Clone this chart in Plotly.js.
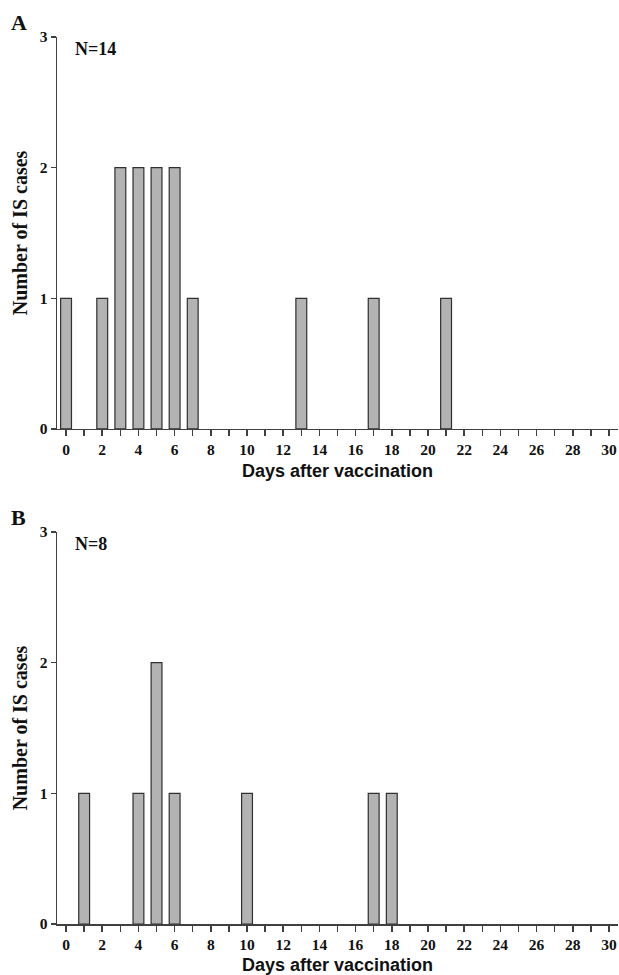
<!DOCTYPE html>
<html>
<head>
<meta charset="utf-8">
<script src="https://cdn.plot.ly/plotly-3.0.1.min.js"></script>
<style>html,body{margin:0;padding:0;background:#fff;}#chart{width:619px;height:975px;}</style>
</head>
<body>
<div id="chart"></div>
<script>
// Panel A
const daysA = [0, 2, 3, 4, 5, 6, 7, 13, 17, 21];
const casesA = [1, 1, 2, 2, 2, 2, 1, 1, 1, 1];
// Panel B
const daysB = [1, 4, 5, 6, 10, 17, 18];
const casesB = [1, 1, 2, 1, 1, 1, 1];
const panelLabels = ['A', 'B'];
const nLabels = ['N=14', 'N=8'];
const xTitle = 'Days after vaccination';
const yTitle = 'Number of IS cases';

const serif = 'Liberation Serif, Times New Roman, serif';
const sans = 'Liberation Sans, Arial, sans-serif';
const axisColor = '#404040';

const barStyle = {
  type: 'bar',
  width: 0.6,
  marker: {color: '#b3b3b3', line: {color: '#303030', width: 1.2}},
  hoverinfo: 'skip',
  showlegend: false
};

const data = [
  Object.assign({x: daysA, y: casesA, xaxis: 'x', yaxis: 'y'}, barStyle),
  Object.assign({x: daysB, y: casesB, xaxis: 'x2', yaxis: 'y2'}, barStyle)
];

function xaxis(anchor) {
  return {
    anchor: anchor,
    range: [-0.5, 30.5],
    dtick: 2, tick0: 0,
    ticks: 'outside', ticklen: 6, tickwidth: 1.5, tickcolor: axisColor,
    minor: {dtick: 1, tick0: 0, ticks: 'outside', ticklen: 6, tickwidth: 1.5, tickcolor: axisColor},
    showline: true, linecolor: axisColor, linewidth: 1.5,
    showgrid: false, zeroline: false,
    tickfont: {family: serif, size: 15.5, color: '#111', weight: 'bold'},
    title: {text: xTitle, font: {family: sans, size: 18, color: '#111', weight: 'bold'}, standoff: 7},
    fixedrange: true
  };
}
function yaxis(anchor, domain) {
  return {
    anchor: anchor, domain: domain,
    range: [0, 3], dtick: 1,
    ticks: 'outside', ticklen: 5, tickwidth: 1.5, tickcolor: axisColor,
    showline: true, linecolor: axisColor, linewidth: 1.5,
    showgrid: false, zeroline: false,
    tickfont: {family: serif, size: 15.5, color: '#111', weight: 'bold'},
    title: {text: yTitle, font: {family: serif, size: 20, color: '#111', weight: 'bold'}, standoff: 6},
    fixedrange: true
  };
}

const layout = {
  width: 619, height: 975,
  margin: {l: 57, r: 1, t: 37, b: 51},
  paper_bgcolor: '#fff', plot_bgcolor: '#fff',
  bargap: 0,
  xaxis: xaxis('y'),
  yaxis: yaxis('x', [0.5581, 1]),
  xaxis2: xaxis('y2'),
  yaxis2: yaxis('x2', [0, 0.4419]),
  annotations: [
    {text: panelLabels[0], xref: 'paper', yref: 'paper', x: -0.068, y: 1.0, xanchor: 'center', yanchor: 'bottom', showarrow: false, font: {family: serif, size: 22, color: '#111', weight: 'bold'}},
    {text: panelLabels[1], xref: 'paper', yref: 'paper', x: -0.068, y: 0.4419, xanchor: 'center', yanchor: 'bottom', showarrow: false, font: {family: serif, size: 22, color: '#111', weight: 'bold'}},
    {text: nLabels[0], xref: 'x', yref: 'y', x: 0.4, y: 2.91, xanchor: 'left', yanchor: 'middle', showarrow: false, font: {family: serif, size: 18, color: '#111', weight: 'bold'}},
    {text: nLabels[1], xref: 'x2', yref: 'y2', x: 0.4, y: 2.91, xanchor: 'left', yanchor: 'middle', showarrow: false, font: {family: serif, size: 18, color: '#111', weight: 'bold'}}
  ]
};

Plotly.newPlot('chart', data, layout, {displayModeBar: false, staticPlot: true});
</script>
</body>
</html>
